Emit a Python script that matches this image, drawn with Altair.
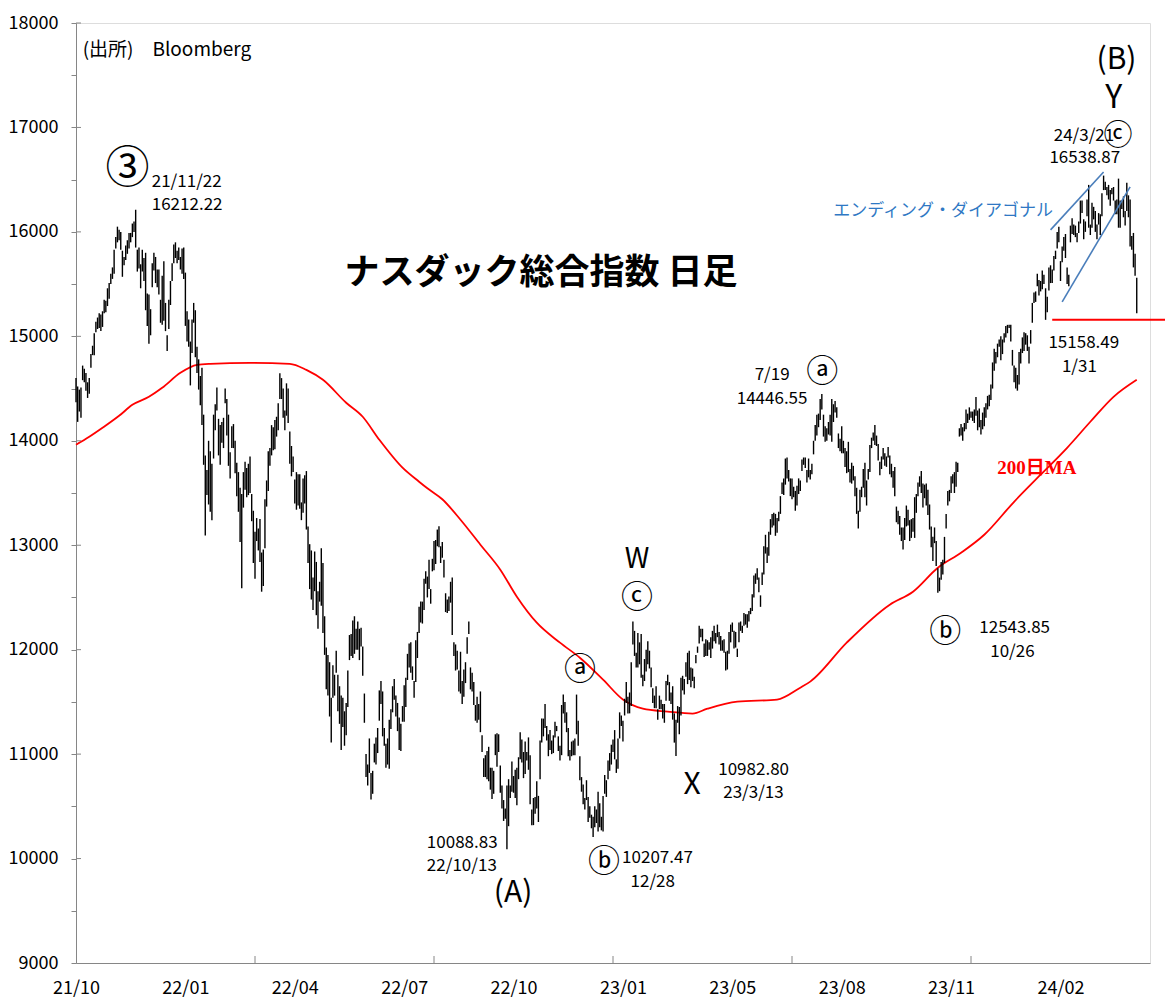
import json
import altair as alt
import pandas as pd

# ---------------- data (daily high / low, trading-day index 0 = 2021/10/01) ----------------
HIGH = [
    # 2021-10
    14600, 14520, 14490, 14510, 14720, 14690, 14650, 14560, 14600, 14830, 14910, 15030, 15140, 15180, 15220, 15210, 15240, 15350, 15340, 15460, 15510,
    # 2021-11
    15600, 15660, 15830, 15950, 16050, 16020, 16000, 15820, 15760, 15870, 15920, 15990, 15990, 16080, 16100, 16212, 15830, 15850, 15690, 15830, 15750,
    # 2021-12
    15800, 15410, 15400, 15260, 15700, 15800, 15760, 15640, 15640, 15350, 15580, 15720, 15320, 15010, 15350, 15530, 15700, 15880, 15900, 15820, 15850, 15760,
    # 2022-01
    15840, 15850, 15610, 15240, 15160, 14950, 15160, 15320, 15250, 14900, 14780, 14620, 14700, 14250, 13860, 13720, 14000, 13900, 13780, 14250,
    # 2022-02
    14350, 14510, 14210, 14150, 14180, 14220, 14500, 14400, 14250, 13890, 14140, 14160, 14000, 13790, 13700, 13550, 13490, 13700, 13800,
    # 2022-03
    13740, 13780, 13850, 13490, 13330, 13130, 13260, 13160, 13250, 12930, 12960, 13440, 13620, 13900, 13930, 14150, 14130, 14200, 14230, 14360, 14646, 14600, 14500,
    # 2022-04
    14290, 14550, 14500, 14090, 13950, 13850, 13630, 13700, 13680, 13680, 13410, 13640, 13670, 13710, 13180, 13010, 12950, 12690, 12940, 12840,
    # 2022-05
    12560, 12650, 12970, 12830, 12320, 12020, 11950, 11880, 11540, 11850, 11760, 11990, 11760, 11650, 11560, 11540, 11410, 11490, 11800, 12140, 12150,
    # 2022-06
    12280, 12320, 12200, 12270, 12200, 12210, 12030, 11580, 11000, 10900, 11150, 10820, 10840, 11100, 11160, 11250, 11610, 11700, 11600, 11250, 11100,
    # 2022-07
    11150, 11330, 11430, 11650, 11720, 11560, 11490, 11350, 11290, 11460, 11660, 11730, 11960, 12060, 12070, 11840, 11700, 12090, 12170, 12410,
    # 2022-08
    12460, 12460, 12680, 12750, 12700, 12860, 12580, 12870, 13040, 13050, 13150, 13181, 12990, 13030, 12860, 12540, 12480, 12510, 12650, 12690, 12070, 12050, 11990,
    # 2022-09
    11800, 11980, 11700, 11810, 11880, 12120, 12270, 11830, 11780, 11690, 11470, 11550, 11480, 11600, 11180, 10960, 10990, 11030, 11070, 10870, 10870,
    # 2022-10
    10840, 11190, 11200, 11190, 10890, 10700, 10560, 10480, 10700, 10760, 10700, 10930, 10790, 10850, 10870, 10970, 11210, 11140, 11020, 11120, 11020,
    # 2022-11
    11160, 10990, 10470, 10580, 10590, 10740, 10600, 11130, 11340, 11340, 11480, 11270, 11190, 11230, 11130, 11180, 11310, 11270, 11170, 11080, 11470,
    # 2022-12
    11570, 11500, 11400, 11250, 11040, 11120, 11130, 11150, 11570, 11320, 10980, 10780, 10710, 10580, 10750, 10590, 10500, 10420, 10400, 10500, 10470,
    # 2023-01
    10640, 10530, 10400, 10600, 10800, 10750, 10940, 11010, 11090, 11140, 11230, 10950, 11150, 11400, 11370, 11320, 11530, 11690, 11550, 11590,
    # 2023-02
    11880, 12270, 12180, 11970, 12160, 12070, 12150, 11760, 11910, 12000, 12080, 11990, 11830, 11630, 11560, 11650, 11430, 11560, 11520,
    # 2023-03
    11480, 11480, 11700, 11760, 11690, 11590, 11650, 11390, 11330, 11460, 11450, 11730, 11750, 11720, 11880, 11970, 11990, 11830, 11820, 11740, 11950, 12030, 12230,
    # 2023-04
    12200, 12200, 12060, 12100, 12090, 12070, 12120, 12180, 12230, 12160, 12240, 12170, 12130, 12090, 12100, 11980, 11990, 12170, 12240,
    # 2023-05
    12260, 12180, 12170, 12010, 12260, 12270, 12230, 12350, 12340, 12340, 12370, 12400, 12530, 12710, 12730, 12780, 12690, 12520, 12740, 12990, 13100, 12980,
    # 2023-06
    13130, 13250, 13300, 13310, 13300, 13260, 13320, 13470, 13600, 13640, 13830, 13840, 13720, 13640, 13640, 13560, 13520, 13570, 13640, 13620, 13820,
    # 2023-07
    13840, 13840, 13720, 13830, 13720, 13780, 14000, 14150, 14250, 14260, 14400, 14447, 14250, 14140, 14120, 14180, 14250, 14400, 14350, 14380,
    # 2023-08
    14320, 14070, 14020, 14140, 14000, 13930, 13900, 13990, 13730, 13790, 13760, 13660, 13550, 13330, 13530, 13560, 13730, 13790, 13620, 13730, 13960, 14030, 14080,
    # 2023-09
    14150, 14050, 13970, 13800, 13850, 13930, 13880, 13850, 13940, 13860, 13780, 13710, 13750, 13370, 13330, 13280, 13170, 13170, 13260, 13380,
    # 2023-10
    13340, 13240, 13250, 13260, 13460, 13490, 13600, 13660, 13710, 13590, 13580, 13590, 13530, 13390, 13180, 13080, 13170, 13040, 12780, 12690, 12840, 12860,
    # 2023-11
    13080, 13300, 13520, 13530, 13660, 13680, 13700, 13800, 13790, 14120, 14160, 14130, 14170, 14300, 14260, 14320, 14280, 14280, 14300, 14420, 14290,
    # 2023-12
    14310, 14200, 14270, 14320, 14360, 14430, 14440, 14540, 14750, 14880, 14850, 14930, 14970, 15000, 14970, 15030, 15100, 15110, 15110, 15110,
    # 2024-01
    14870, 14720, 14700, 14630, 14850, 14880, 14990, 15040, 15030, 15010, 14900, 15060, 15320, 15420, 15430, 15600, 15540, 15530, 15630, 15590, 15460,
    # 2024-02
    15380, 15660, 15680, 15640, 15770, 15820, 16000, 16050, 15720, 15860, 15950, 15980, 15660, 15590, 16060, 16130, 16070, 16060, 15990, 16100,
    # 2024-03
    16300, 16300, 16120, 16100, 16310, 16450, 16070, 16280, 16240, 16200, 16070, 16180, 16170, 16370, 16539, 16480, 16430, 16450, 16400, 16420,
    # 2024-04
    16430, 16300, 16310, 16510, 16300, 16300, 16340, 16200, 16470, 16350, 16310, 15960, 15990, 15790, 15560,
]

LOW = [
    # 2021-10
    14370, 14181, 14280, 14220, 14580, 14560, 14480, 14410, 14450, 14700, 14820, 14820, 15040, 15070, 15080, 15050, 15090, 15220, 15230, 15290, 15360,
    # 2021-11
    15500, 15550, 15600, 15840, 15900, 15920, 15830, 15570, 15680, 15730, 15790, 15840, 15900, 15950, 16000, 15850, 15620, 15650, 15460, 15620, 15530,
    # 2021-12
    15250, 15100, 14930, 15010, 15470, 15630, 15510, 15470, 15400, 15130, 15110, 15150, 15050, 14860, 15070, 15300, 15530, 15700, 15750, 15700, 15730, 15640,
    # 2022-01
    15600, 15550, 15100, 14950, 14900, 14530, 14840, 15130, 14800, 14650, 14490, 14340, 14150, 13770, 13094, 13480, 13390, 13320, 13240, 13830,
    # 2022-02
    14100, 14290, 13860, 13770, 13980, 13930, 14360, 14050, 13760, 13640, 13930, 13930, 13690, 13470, 13320, 13030, 12587, 13360, 13530,
    # 2022-03
    13460, 13480, 13500, 13230, 12830, 12680, 13040, 12950, 12840, 12555, 12610, 12970, 13370, 13520, 13760, 13860, 13910, 13920, 14040, 14100, 14400, 14400, 14220,
    # 2022-04
    14100, 14240, 14170, 13780, 13660, 13700, 13400, 13340, 13380, 13350, 13240, 13310, 13400, 13150, 12830, 12580, 12480, 12380, 12560, 12330,
    # 2022-05
    12200, 12460, 12420, 12160, 11950, 11620, 11560, 11360, 11110, 11540, 11560, 11780, 11410, 11290, 11040, 11260, 11080, 11180, 11450, 11900, 11940,
    # 2022-06
    11920, 11960, 12000, 12000, 11900, 12030, 11750, 11300, 10780, 10700, 10820, 10565, 10620, 10920, 10900, 11010, 11320, 11480, 11170, 11080, 10870,
    # 2022-07
    10900, 10860, 11240, 11400, 11520, 11360, 11220, 11040, 11030, 11310, 11310, 11450, 11710, 11830, 11780, 11710, 11540, 11690, 11920, 12160,
    # 2022-08
    12260, 12250, 12380, 12630, 12500, 12580, 12440, 12750, 12760, 12820, 12990, 12980, 12830, 12880, 12690, 12360, 12350, 12370, 12450, 12140, 11940, 11800, 11810,
    # 2022-09
    11600, 11580, 11480, 11550, 11680, 11960, 12150, 11620, 11600, 11470, 11320, 11300, 11330, 11210, 11020, 10780, 10780, 10760, 10740, 10660, 10570,
    # 2022-10
    10620, 10990, 10880, 11020, 10630, 10480, 10360, 10380, 10089, 10310, 10580, 10640, 10630, 10580, 10510, 10760, 10950, 10920, 10770, 10810, 10940,
    # 2022-11
    10850, 10520, 10320, 10320, 10430, 10480, 10350, 10760, 11110, 11170, 11250, 11130, 10980, 11040, 11000, 11010, 11160, 11220, 11030, 10940, 10990,
    # 2022-12
    11390, 11300, 11210, 10980, 10940, 10980, 10990, 10990, 11190, 11080, 10750, 10640, 10520, 10470, 10560, 10350, 10390, 10290, 10207, 10300, 10340,
    # 2023-01
    10260, 10300, 10270, 10260, 10620, 10590, 10760, 10840, 10900, 11020, 10950, 10820, 10860, 11150, 11270, 11120, 11370, 11490, 11390, 11390,
    # 2023-02
    11460, 12050, 11940, 11830, 11830, 11860, 11730, 11650, 11700, 11790, 11860, 11820, 11640, 11490, 11440, 11440, 11330, 11430, 11430,
    # 2023-03
    11340, 11300, 11510, 11660, 11510, 11480, 11330, 11110, 10983, 11300, 11190, 11370, 11610, 11570, 11740, 11670, 11710, 11640, 11700, 11630, 11870, 11970, 12060,
    # 2023-04
    12120, 12080, 11930, 11940, 11940, 12000, 11920, 12010, 12080, 12060, 12120, 12050, 11990, 11990, 11970, 11800, 11810, 11960, 12070,
    # 2023-05
    12170, 12010, 12020, 11930, 12070, 12180, 12160, 12230, 12240, 12210, 12270, 12340, 12370, 12500, 12630, 12670, 12550, 12410, 12620, 12720, 12920, 12830,
    # 2023-06
    12900, 13100, 13170, 13190, 13090, 13120, 13230, 13300, 13490, 13480, 13580, 13640, 13610, 13470, 13440, 13460, 13330, 13380, 13490, 13520, 13710,
    # 2023-07
    13770, 13740, 13600, 13650, 13630, 13680, 13870, 14000, 14050, 14130, 14200, 14300, 14040, 13990, 14000, 14060, 14050, 13990, 14180, 14270,
    # 2023-08
    14220, 13930, 13900, 13880, 13880, 13750, 13690, 13700, 13600, 13590, 13620, 13470, 13300, 13161, 13320, 13460, 13550, 13460, 13380, 13630, 13700, 13930, 14000,
    # 2023-09
    13960, 13950, 13810, 13670, 13730, 13820, 13760, 13750, 13840, 13680, 13650, 13550, 13470, 13220, 13200, 13100, 13040, 12960, 13050, 13180,
    # 2023-10
    13190, 13040, 13070, 13130, 13070, 13310, 13470, 13560, 13500, 13360, 13450, 13380, 13290, 13150, 12980, 12850, 13020, 12800, 12544, 12560, 12670, 12720,
    # 2023-11
    12830, 13160, 13380, 13420, 13500, 13590, 13500, 13560, 13700, 14040, 14050, 14000, 14090, 14110, 14170, 14200, 14220, 14190, 14170, 14240, 14100,
    # 2023-12
    14130, 14060, 14110, 14140, 14220, 14300, 14330, 14390, 14500, 14670, 14740, 14800, 14900, 14770, 14830, 14940, 14990, 15030, 15080, 14950,
    # 2024-01
    14720, 14560, 14500, 14480, 14540, 14740, 14840, 14860, 14920, 14860, 14740, 14930, 15130, 15320, 15330, 15480, 15390, 15430, 15450, 15500, 15158,
    # 2024-02
    15230, 15440, 15510, 15510, 15630, 15740, 15840, 15900, 15530, 15710, 15820, 15750, 15500, 15480, 15900, 15980, 15970, 15950, 15900, 15990,
    # 2024-03
    16080, 16180, 15930, 16000, 16150, 16040, 15970, 16040, 16120, 16000, 15930, 16070, 15970, 16150, 16400, 16400, 16350, 16310, 16250, 16360,
    # 2024-04
    16300, 16170, 16170, 16040, 16040, 16220, 16140, 16060, 16200, 16140, 15860, 15830, 15660, 15580, 15222,
]

# 200-day moving average (trading-day index, value)
MA_IDX = [0, 8, 16, 26, 34, 44, 52, 63, 73, 81, 105, 129, 139, 149, 163, 173, 183, 197, 207,
          212, 221, 232, 244, 256, 266, 278, 292, 304, 318, 330, 342, 357, 372, 381, 399, 423, 437,
          443, 465, 491, 505, 520, 534, 548, 566, 582, 598, 612, 626, 640]
MA_VAL = [13962, 14038, 14124, 14239, 14344, 14421, 14507, 14651, 14727, 14737, 14746, 14737,
          14679, 14584, 14364, 14230, 14010, 13742, 13608, 13545, 13440, 13244, 13005, 12766, 12507,
          12258, 12067, 11923, 11713, 11522, 11435, 11407, 11388, 11435, 11502, 11522, 11636, 11694,
          12067, 12431, 12555, 12785, 12928, 13100, 13416, 13675, 13933, 14182, 14421, 14584]

X_LABELS = ["21/10", "22/01", "22/04", "22/07", "22/10", "23/01", "23/05", "23/08", "23/11", "24/02"]
X_LABEL_STEP = 66      # trading days between date labels
X_TICK_STEP = 108      # trading days between axis tick marks
X_MAX = 648
Y_MIN, Y_MAX = 9000, 18000

# ending diagonal (blue) trend lines and the 1/31 support line
DIAG_X1 = [588, 595]
DIAG_Y1 = [16019, 15330]
DIAG_X2 = [620, 636]
DIAG_Y2 = [16574, 16431]
SUPPORT = 15158.49
SUPPORT_X = [589, 662]

# annotations
NUM_LEFT_T = ["21/11/22", "16212.22", "24/3/21", "16538.87", "15158.49", "12543.85",
              "10982.80", "23/3/13", "10088.83", "22/10/13", "10207.47"]
NUM_LEFT_X = [45.7, 45.7, 589.9, 587.3, 586.7, 545, 387.5, 390.5, 211.7, 211.7, 329.5]
NUM_LEFT_Y = [16478, 16258, 16919, 16708, 14938, 12211, 10852, 10632, 10153, 9933, 10010]

NUM_CTR_T = ["7/19", "14446.55", "12/28", "10/26", "1/31"]
NUM_CTR_X = [420, 420, 348, 565, 605.4]
NUM_CTR_Y = [14632, 14402, 9780, 11981, 14708]

WAVE_T = ["W", "X", "Y", "(A)", "(B)"]
WAVE_X = [338.5, 371.7, 626.2, 263.7, 627.8]
WAVE_Y = [12861, 10708, 17282, 9675, 17646]
WAVE_S = [28, 30, 32, 30, 30]

CIRC_T = ["ⓐ", "ⓒ", "ⓐ", "ⓑ", "ⓑ", "ⓒ"]
CIRC_X = [450.2, 338.5, 304.1, 318.6, 524.5, 628.7]
CIRC_Y = [14660, 12498, 11809, 9971, 12172, 16919]
CIRC_S = [32, 32, 32, 32, 32, 29]

WAVE3 = "③"
TITLE = "ナスダック総合指数 日足"
SOURCE = "(出所)\u3000Bloomberg"
DIAG_LABEL = "エンディング・ダイアゴナル"
MA_LABEL = "200日MA"

# ---------------- chart ----------------
W, H = 1074, 940
FONT = "Noto Sans CJK JP"
AXIS_GRAY = "#868686"

xs = alt.Scale(domain=[0, X_MAX], nice=False, zero=False)
ys = alt.Scale(domain=[Y_MIN, Y_MAX], nice=False, zero=False)

x_axis = alt.Axis(
    values=[X_LABEL_STEP * k for k in range(len(X_LABELS))],
    labelExpr=f"{json.dumps(X_LABELS)}[round(datum.value / {X_LABEL_STEP})]",
    ticks=False, grid=False, title=None, domainColor=AXIS_GRAY, domainWidth=1,
    labelFont=FONT, labelFontSize=18, labelColor="#000000", labelPadding=16,
    labelOverlap=False, labelFlush=False,
)
y_axis = alt.Axis(
    values=list(range(Y_MIN, Y_MAX + 1, 500)),
    labelExpr="datum.value % 1000 == 0 ? '' + datum.value : ''",
    tickSize=5, tickColor=AXIS_GRAY, grid=False, title=None,
    domainColor=AXIS_GRAY, domainWidth=1,
    labelFont=FONT, labelFontSize=18, labelColor="#000000", labelPadding=13,
    labelOverlap=False, labelFlush=False,
)

X = lambda f: alt.X(f, scale=xs, axis=x_axis)
Y = lambda f: alt.Y(f, scale=ys, axis=y_axis)

bars_df = pd.DataFrame({"i": list(range(len(HIGH))), "h": HIGH, "l": LOW})
bars = alt.Chart(bars_df).mark_rule(color="#000000", strokeWidth=1.4).encode(
    x=X("i:Q"), y=Y("l:Q"), y2="h:Q"
)

ma_df = pd.DataFrame({"i": MA_IDX, "v": MA_VAL})
ma = alt.Chart(ma_df).mark_line(color="#ff0000", strokeWidth=1.8, interpolate="monotone").encode(
    x=X("i:Q"), y=Y("v:Q")
)

diag_df = pd.DataFrame({"x1": DIAG_X1, "y1": DIAG_Y1, "x2": DIAG_X2, "y2": DIAG_Y2})
diag = alt.Chart(diag_df).mark_rule(color="#4a7ebb", strokeWidth=1.6).encode(
    x=X("x1:Q"), y=Y("y1:Q"), x2="x2:Q", y2="y2:Q"
)

sup_df = pd.DataFrame({"x1": [SUPPORT_X[0]], "x2": [SUPPORT_X[1]], "y": [SUPPORT]})
sup = alt.Chart(sup_df).mark_rule(color="#ff0000", strokeWidth=2).encode(
    x=X("x1:Q"), x2="x2:Q", y=Y("y:Q")
)

xt_df = pd.DataFrame({"v": [X_TICK_STEP * k for k in range(1, X_MAX // X_TICK_STEP)]})
xticks = alt.Chart(xt_df).mark_rule(color=AXIS_GRAY, strokeWidth=1).encode(
    x=X("v:Q"), y=alt.value(H), y2=alt.value(H - 7)
)
yt_df = pd.DataFrame({"v": list(range(Y_MIN + 1000, Y_MAX + 1, 1000))})
yticks = alt.Chart(yt_df).mark_rule(color=AXIS_GRAY, strokeWidth=1).encode(
    y=Y("v:Q"), x=alt.value(0), x2=alt.value(5)
)


def text_layer(t, x, y, size=None, **kw):
    d = {"t": t, "x": x, "y": y}
    enc = dict(x=X("x:Q"), y=Y("y:Q"), text="t:N")
    if size is not None:
        d["s"] = size
        enc["size"] = alt.Size("s:Q", scale=None, legend=None)
    return alt.Chart(pd.DataFrame(d)).mark_text(baseline="middle", **kw).encode(**enc)


num_left = text_layer(NUM_LEFT_T, NUM_LEFT_X, NUM_LEFT_Y, align="left", font=FONT, fontSize=17, color="#000000")
num_ctr = text_layer(NUM_CTR_T, NUM_CTR_X, NUM_CTR_Y, align="center", font=FONT, fontSize=17, color="#000000")
waves = text_layer(WAVE_T, WAVE_X, WAVE_Y, WAVE_S, align="center", font=FONT, color="#000000")
circs = text_layer(CIRC_T, CIRC_X, CIRC_Y, CIRC_S, align="center", font=FONT, color="#000000")
wave3 = text_layer([WAVE3], [31.1], [16593], align="center", font=FONT, fontSize=44, color="#000000")
title = text_layer([TITLE], [280.6], [15608], align="center", font=FONT, fontSize=35,
                   fontWeight="bold", color="#000000")
source = text_layer([SOURCE], [4], [17742], align="left", font=FONT, fontSize=19, color="#000000")
dlabel = text_layer([DIAG_LABEL], [456.9], [16201], align="left", font=FONT, fontSize=17, color="#2f78c4")
malabel = text_layer([MA_LABEL], [555.9], [13742], align="left", font="Liberation Serif, Noto Sans CJK JP",
                     fontSize=19, fontWeight="bold", color="#ff0000")

chart = alt.layer(
    ma, bars, diag, sup, xticks, yticks,
    num_left, num_ctr, waves, circs, wave3, title, source, dlabel, malabel,
).properties(
    width=W, height=H,
    padding={"left": 68, "top": 15, "right": 15, "bottom": 36},
    autosize=alt.AutoSizeParams(type="none"),
).configure_view(stroke=None).configure(background="#ffffff")

chart.save("out.html", embed_options={"renderer": "svg", "actions": False})
